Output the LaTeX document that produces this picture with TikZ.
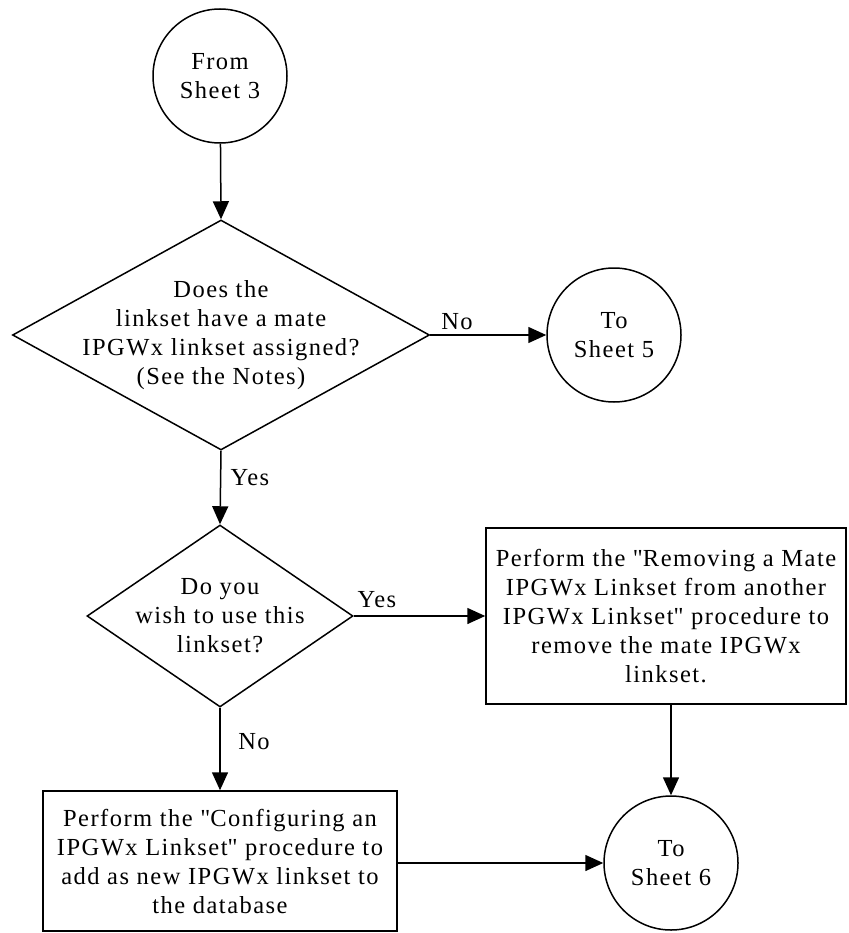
\documentclass[tikz,border=0pt]{standalone}
\usepackage{fontspec}
\setmainfont{Liberation Serif}[LetterSpace=6]
\usetikzlibrary{shapes.geometric,arrows.meta}
\newcommand\qmark{\XeTeXglyph\XeTeXglyphindex "quotedbl"\relax}
\begin{document}
\begin{tikzpicture}[x=1pt,y=-1pt,
  every node/.style={font=\fontsize{24.5}{29}\selectfont},
  shp/.style={draw,line width=1.5pt,inner sep=0pt},
  term/.style={shp,circle,minimum size=134pt,align=center},
  dec/.style={shp,diamond},
  proc/.style={shp,rectangle,align=center},
  txt/.style={align=center,inner sep=0pt},
  arr/.style={line width=1.5pt,-{Triangle[length=18pt,width=16pt]}},
  lbl/.style={inner sep=0pt}]
\useasboundingbox (0,0) rectangle (848,933);
\node[term] (cA) at (220,76) {From\\Sheet 3};
\node[dec,minimum width=417pt,minimum height=230pt] (d1) at (221,335) {};
\node[txt] (d1t) at (d1.center) {Does the\\linkset have a mate\\IPGWx linkset assigned?\\(See the Notes)};
\node[term] (cB) at (614,335) {To\\Sheet 5};
\node[dec,minimum width=266pt,minimum height=182pt] (d2) at (220,616) {};
\node[txt] (d2t) at (d2.center) {Do you\\wish to use this\\linkset?};
\node[proc,minimum width=360pt,minimum height=176pt] (b2) at (666,616) {Perform the \qmark Removing a Mate\\IPGWx Linkset from another\\IPGWx Linkset\qmark{} procedure to\\remove the mate IPGWx\\linkset.};
\node[term] (cC) at (671,863) {To\\Sheet 6};
\node[proc,minimum width=354pt,minimum height=140pt] (b1) at (220,861) {Perform the \qmark Configuring an\\IPGWx Linkset\qmark{} procedure to\\add as new IPGWx linkset to\\the database};
\draw[arr] (cA) -- (d1.north);
\draw[arr] (d1.east) -- (cB);
\draw[arr] (d1.south) -- (d2.north);
\draw[arr] (d2.east) -- (b2.west);
\draw[arr] (d2.south) -- (b1.north);
\draw[arr] (cC |- b2.south) -- (cC);
\draw[arr] (b1.east |- cC) -- (cC);
\node[lbl] (lNo1) at (457,322) {No};
\node[lbl] (lYes1) at (250,478) {Yes};
\node[lbl] (lYes2) at (377,600) {Yes};
\node[lbl] (lNo2) at (254,742) {No};
\end{tikzpicture}
\end{document}
